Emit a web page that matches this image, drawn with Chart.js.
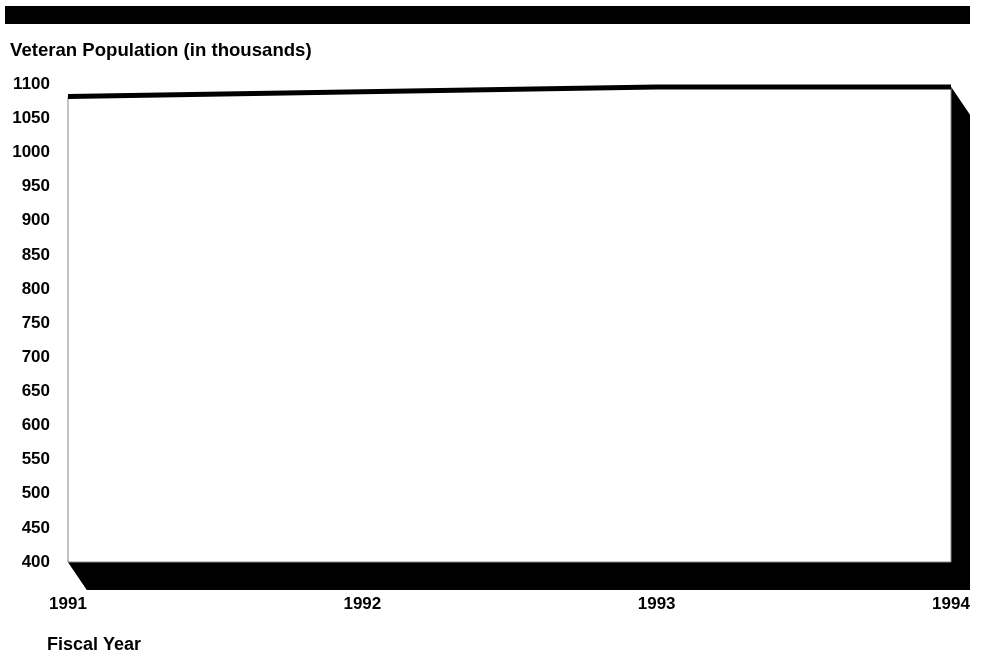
<!DOCTYPE html>
<html><head><meta charset="utf-8">
<script src="https://cdn.jsdelivr.net/npm/chart.js@4.4.0/dist/chart.umd.min.js"></script>
<style>
html,body{margin:0;padding:0;background:#fff;}
#wrap{position:relative;width:990px;height:656px;}
#bar{position:absolute;left:5px;top:6px;width:965px;height:18px;background:#000;}
canvas{position:absolute;left:0;top:0;}
</style></head><body>
<div id="wrap"><canvas id="c" width="990" height="656"></canvas><div id="bar"></div></div>
<script>
const years = ['1991', '1992', '1993', '1994'];
const veterans = [1082, 1089, 1096, 1096];
const yMin = 400, yMax = 1100, yStep = 50;
const yTitle = 'Veteran Population (in thousands)';
const xTitle = 'Fiscal Year';

const depthX = 19, depthY = 28;
const FONT = "'Liberation Sans', Arial, Helvetica, sans-serif";

const extrude = {
  id: 'extrude',
  beforeDatasetsDraw(chart) {
    const meta = chart.getDatasetMeta(0);
    const base = chart.scales.y.getPixelForValue(yMin);
    const pts = meta.data.map(p => ({x: p.x, y: p.y}));
    const poly = pts.concat([{x: pts[pts.length - 1].x, y: base}, {x: pts[0].x, y: base}]);
    const ctx = chart.ctx;
    ctx.save();
    ctx.fillStyle = '#000';
    ctx.beginPath();
    poly.forEach((p, i) => i ? ctx.lineTo(p.x + depthX, p.y + depthY) : ctx.moveTo(p.x + depthX, p.y + depthY));
    ctx.closePath();
    ctx.fill();
    for (let i = 0; i < poly.length; i++) {
      const a = poly[i], b = poly[(i + 1) % poly.length];
      ctx.beginPath();
      ctx.moveTo(a.x, a.y);
      ctx.lineTo(b.x, b.y);
      ctx.lineTo(b.x + depthX, b.y + depthY);
      ctx.lineTo(a.x + depthX, a.y + depthY);
      ctx.closePath();
      ctx.fill();
    }
    ctx.beginPath();
    poly.forEach((p, i) => i ? ctx.lineTo(p.x, p.y) : ctx.moveTo(p.x, p.y));
    ctx.closePath();
    ctx.fillStyle = '#fff';
    ctx.fill();
    ctx.strokeStyle = '#888';
    ctx.lineWidth = 1;
    ctx.stroke();
    ctx.restore();
  },
  afterDraw(chart) {
    const ctx = chart.ctx;
    ctx.save();
    ctx.fillStyle = '#000';
    ctx.font = 'bold 18px ' + FONT;
    ctx.textAlign = 'left';
    ctx.textBaseline = 'middle';
    ctx.fillText(xTitle, 47, 645);
    ctx.restore();
  }
};

new Chart(document.getElementById('c'), {
  type: 'line',
  data: {
    labels: years,
    datasets: [{
      data: veterans,
      borderColor: '#000',
      borderWidth: 5,
      pointRadius: 0,
      fill: false,
      tension: 0,
      clip: false
    }]
  },
  options: {
    responsive: false,
    animation: false,
    events: [],
    layout: {padding: {left: 10, right: 39, top: 0, bottom: 40}},
    plugins: {
      legend: {display: false},
      tooltip: {enabled: false},
      title: {
        display: true,
        text: yTitle,
        align: 'start',
        color: '#000',
        font: {family: FONT, size: 18.6, weight: 'bold'},
        padding: {top: 40, bottom: 22}
      }
    },
    scales: {
      x: {
        offset: false,
        grid: {display: false, drawTicks: false},
        border: {display: false},
        ticks: {color: '#000', font: {family: FONT, size: 17, weight: 'bold'}, padding: 32, maxRotation: 0, autoSkip: false},
        afterFit(s) { s.height = 54; s.paddingLeft = 0; s.paddingRight = 0; }
      },
      y: {
        min: yMin,
        max: yMax,
        grid: {display: false, drawTicks: false},
        border: {display: false},
        ticks: {stepSize: yStep, color: '#000', font: {family: FONT, size: 17, weight: 'bold'}, padding: 18,
                callback: v => String(v)},
        afterFit(s) { s.width = 58; }
      }
    }
  },
  plugins: [extrude]
});
</script>
</body></html>
